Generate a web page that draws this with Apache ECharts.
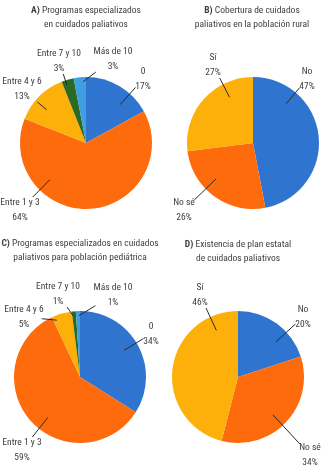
<!DOCTYPE html>
<html>
<head>
<meta charset="utf-8">
<script src="https://cdn.jsdelivr.net/npm/echarts@6/dist/echarts.min.js"></script>
<style>
html,body{margin:0;padding:0;background:#fff;}
#c{width:329px;height:466px;}
</style>
</head>
<body>
<div id="c"></div>
<script>
// ---- data ----
const catsA = ['0', 'Entre 1 y 3', 'Entre 4 y 6', 'Entre 7 y 10', 'Más de 10'];
const valsA = [17, 64, 13, 3, 3];
const catsB = ['No', 'No sé', 'Sí'];
const valsB = [47, 26, 27];
const catsC = ['0', 'Entre 1 y 3', 'Entre 4 y 6', 'Entre 7 y 10', 'Más de 10'];
const valsC = [34, 59, 5, 1, 1];
const catsD = ['No', 'No sé', 'Sí'];
const valsD = [20, 34, 46];
const titlesTxt = [
  ['A)', 'Programas especializados', 'en cuidados paliativos'],
  ['B)', 'Cobertura de cuidados', 'paliativos en la población rural'],
  ['C)', 'Programas especializados en cuidados', 'paliativos para población pediátrica'],
  ['D)', 'Existencia de plan estatal', 'de cuidados paliativos']
];

// ---- layout / style ----
const FONT = "'Roboto Condensed','DejaVu Sans Condensed',sans-serif";
const FS = 9.5;
const TXT = '#404040';
const col5 = ['#2f74cf', '#fd6b0c', '#fdb00a', '#2b6a25', '#3f9fe0'];
const col3 = ['#2f74cf', '#fd6b0c', '#fdb00a'];
const centers = [[86, 143], [253, 143], [80, 377], [238, 377]];
const titlePos = [[86, 4], [252, 4], [80, 237], [238, 238]];
const R = 66;
const labelPos = [
  [[143, 79], [20, 210], [22, 89], [59, 61], [113, 59]],
  [[307, 79], [184, 210], [213, 65]],
  [[151, 334], [22, 450], [24, 317], [58, 294], [113, 295]],
  [[303, 317], [310, 455], [200, 295]]
];

const sets = [
  [catsA, valsA, col5], [catsB, valsB, col3], [catsC, valsC, col5], [catsD, valsD, col3]
];

function sliceAngles(vals) {
  const tot = vals.reduce(function (a, b) { return a + b; }, 0);
  let acc = 0;
  return vals.map(function (v) {
    const a0 = acc / tot * 360; acc += v; return [a0, acc / tot * 360];
  });
}

function leader(k, i, w, h) {
  const c = centers[k];
  const lp = labelPos[k][i];
  const ang = sliceAngles(sets[k][1])[i];
  const span = ang[1] - ang[0];
  const mid = (ang[0] + ang[1]) / 2;
  let th = Math.atan2(lp[0] - c[0], -(lp[1] - c[1])) * 180 / Math.PI;
  let diff = ((th - mid) % 360 + 540) % 360 - 180;
  const lim = Math.max(0, span / 2 - Math.min(3, span / 4));
  diff = Math.max(-lim, Math.min(lim, diff));
  th = (mid + diff) * Math.PI / 180;
  const r = span < 20 ? R * 0.93 : R * 0.78;
  const px = c[0] + r * Math.sin(th), py = c[1] - r * Math.cos(th);
  const dx = px - lp[0], dy = py - lp[1];
  const t = Math.min((w / 2 + 1) / Math.max(Math.abs(dx), 1e-6), (h / 2 + 1) / Math.max(Math.abs(dy), 1e-6));
  return [[px, py], [lp[0] + dx * t, lp[1] + dy * t]];
}

const series = [];
sets.forEach(function (s, k) {
  const data = s[0].map(function (n, i) { return { name: n, value: s[1][i] }; });
  series.push({
    type: 'pie', silent: true, center: centers[k], radius: R, startAngle: 90,
    color: s[2], data: data, label: { show: false }, labelLine: { show: false },
    animation: false, z: 2
  });
  series.push({
    type: 'pie', silent: true, center: centers[k], radius: R * 0.78, startAngle: 90,
    data: data, z: 3, animation: false,
    itemStyle: { color: 'rgba(0,0,0,0)' },
    label: {
      show: true, position: 'outside', formatter: '{b}\n{c}%', overflow: 'none',
      color: TXT, fontFamily: FONT, fontSize: FS, lineHeight: 15
    },
    labelLine: { show: true, length: 10, length2: 0, lineStyle: { color: '#2a2a2a', width: 1 } },
    labelLayout: function (p) {
      const pos = labelPos[k][p.dataIndex];
      const w = p.labelRect.width, h = p.labelRect.height;
      const pts = leader(k, p.dataIndex, w * 0.85, h * 0.8);
      return { x: pos[0], y: pos[1], align: 'center', verticalAlign: 'middle', labelLinePoints: pts };
    }
  });
});

const titles = titlesTxt.map(function (t, k) {
  return {
    text: '{b|' + t[0] + '} ' + t[1] + '\n' + t[2],
    left: titlePos[k][0], top: titlePos[k][1], textAlign: 'center', padding: 0,
    textStyle: {
      color: TXT, fontFamily: FONT, fontSize: FS, fontWeight: 'normal', lineHeight: 14,
      rich: { b: { fontFamily: FONT, fontSize: FS, fontWeight: 'bold', color: TXT, lineHeight: 14 } }
    }
  };
});

const chart = echarts.init(document.getElementById('c'), null, { renderer: 'canvas' });
chart.setOption({ animation: false, title: titles, series: series });
</script>
</body>
</html>
